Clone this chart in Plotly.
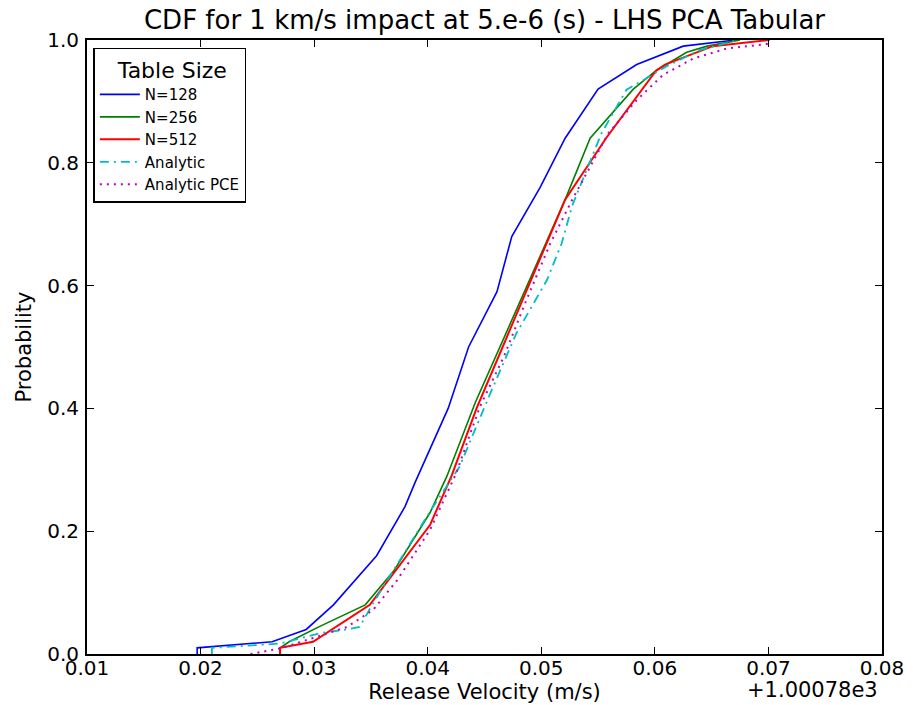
import plotly.graph_objects as go

# Release velocity offsets from 1000.78 (m/s) and CDF probabilities
n128_x = [0.0197, 0.0197, 0.0263, 0.0293, 0.0317, 0.0355, 0.0380, 0.0389, 0.0418, 0.0436, 0.0461, 0.0474, 0.0499, 0.0521, 0.0550, 0.0584, 0.0625, 0.0671]
n128_y = [0.0, 0.01, 0.02, 0.04, 0.08, 0.16, 0.24, 0.28, 0.40, 0.50, 0.59, 0.68, 0.76, 0.84, 0.92, 0.96, 0.99, 1.0]

n256_x = [0.0270, 0.0270, 0.0278, 0.0305, 0.0345, 0.0370, 0.0402, 0.0417, 0.0442, 0.0521, 0.0543, 0.0581, 0.0601, 0.0628, 0.0646, 0.0675]
n256_y = [0.0, 0.01, 0.02, 0.045, 0.08, 0.135, 0.23, 0.29, 0.41, 0.74, 0.84, 0.92, 0.95, 0.98, 0.99, 1.0]

n512_x = [0.0270, 0.0270, 0.0299, 0.0349, 0.0402, 0.0421, 0.0443, 0.0521, 0.0557, 0.0601, 0.0609, 0.0651, 0.0701]
n512_y = [0.0, 0.01, 0.02, 0.08, 0.21, 0.29, 0.40, 0.74, 0.84, 0.95, 0.96, 0.99, 1.0]

ana_x = [0.0210, 0.0210, 0.0270, 0.0305, 0.0325, 0.0340, 0.0352, 0.0402, 0.0428, 0.0455, 0.0478, 0.0505, 0.0518, 0.0527, 0.0553, 0.0575, 0.0590, 0.0610, 0.0640, 0.0672]
ana_y = [0.0, 0.01, 0.017, 0.034, 0.039, 0.044, 0.083, 0.232, 0.305, 0.424, 0.522, 0.609, 0.669, 0.729, 0.848, 0.919, 0.935, 0.957, 0.984, 0.999]

pce_x = [0.0244, 0.0270, 0.0299, 0.0329, 0.0352, 0.0373, 0.0402, 0.0425, 0.0446, 0.0467, 0.0487, 0.0508, 0.0527, 0.0559, 0.0584, 0.0607, 0.0634, 0.0663, 0.0701]
pce_y = [0.0, 0.009, 0.026, 0.044, 0.072, 0.12, 0.202, 0.294, 0.403, 0.484, 0.577, 0.669, 0.739, 0.848, 0.902, 0.943, 0.970, 0.986, 0.994]

x_ticks = [0.01, 0.02, 0.03, 0.04, 0.05, 0.06, 0.07, 0.08]
x_tick_labels = ["0.01", "0.02", "0.03", "0.04", "0.05", "0.06", "0.07", "0.08"]
y_ticks = [0.0, 0.2, 0.4, 0.6, 0.8, 1.0]
y_tick_labels = ["0.0", "0.2", "0.4", "0.6", "0.8", "1.0"]

FONT = "DejaVu Sans"

fig = go.Figure()
fig.add_trace(go.Scatter(x=n128_x, y=n128_y, mode="lines", name="N=128",
                         line=dict(color="#0000ff", width=1.6)))
fig.add_trace(go.Scatter(x=n256_x, y=n256_y, mode="lines", name="N=256",
                         line=dict(color="#008000", width=1.6)))
fig.add_trace(go.Scatter(x=n512_x, y=n512_y, mode="lines", name="N=512",
                         line=dict(color="#ff0000", width=2.0)))
fig.add_trace(go.Scatter(x=ana_x, y=ana_y, mode="lines", name="Analytic",
                         line=dict(color="#00bfbf", width=1.8, dash="9px,5px,2px,5px")))
fig.add_trace(go.Scatter(x=pce_x, y=pce_y, mode="lines", name="Analytic PCE",
                         line=dict(color="#bf00bf", width=2.0, dash="2px,5px")))

axis_common = dict(
    showline=True, linecolor="black", linewidth=2, mirror="ticks",
    ticks="inside", ticklen=7, tickcolor="black", tickwidth=1,
    showgrid=False, zeroline=False, automargin=False,
    tickfont=dict(family=FONT, size=20, color="black"),
)

fig.update_layout(
    width=913, height=705,
    margin=dict(l=87, r=31, t=40, b=51),
    paper_bgcolor="white", plot_bgcolor="white",
    font=dict(family=FONT, color="black"),
    title=dict(text="CDF for 1 km/s impact at 5.e-6 (s) - LHS PCA Tabular",
               x=0.5, xanchor="center", xref="paper",
               y=0.972, yanchor="middle", automargin=False,
               font=dict(family=FONT, size=26, color="black")),
    xaxis=dict(range=[0.01, 0.08], tickvals=x_ticks, ticktext=x_tick_labels,
               ticklabelstandoff=-5,
               title=dict(text="Release Velocity (m/s)", standoff=4,
                          font=dict(family=FONT, size=21, color="black")),
               **axis_common),
    yaxis=dict(range=[0.0, 1.0], tickvals=y_ticks, ticktext=y_tick_labels,
               ticklabelstandoff=2,
               title=dict(text="Probability", standoff=10,
                          font=dict(family=FONT, size=21, color="black")),
               **axis_common),
    legend=dict(x=0.008, y=0.987, xanchor="left", yanchor="top",
                bgcolor="white", bordercolor="black", borderwidth=1.5,
                font=dict(family=FONT, size=15, color="black"),
                title=dict(text="   Table Size", font=dict(family=FONT, size=22, color="black")),
                itemwidth=40, tracegroupgap=0),
    showlegend=True,
)

fig.add_annotation(text="+1.00078e3", xref="paper", yref="paper",
                   x=0.998, y=-0.0586, xanchor="right", yanchor="middle", showarrow=False,
                   font=dict(family=FONT, size=21, color="black"))

fig.write_html("out.html")
